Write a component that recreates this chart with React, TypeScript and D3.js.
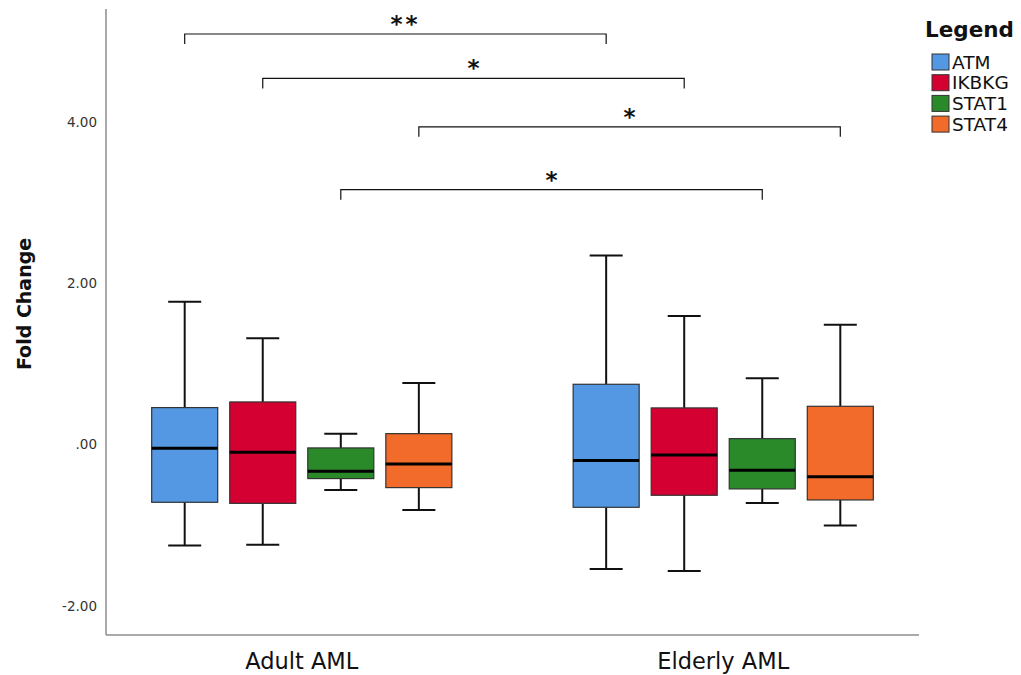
import React from "react";
import * as d3 from "d3";

const groups = ["Adult AML", "Elderly AML"];
const series = ["ATM", "IKBKG", "STAT1", "STAT4"];
const colors = ["#5497E3", "#D50032", "#2A8A2A", "#F26B2B"];

// [low whisker, Q1, median, Q3, high whisker] per group per series
const adultStats = [
  [-1.25, -0.715, -0.046, 0.459, 1.77],
  [-1.24, -0.728, -0.095, 0.529, 1.318],
  [-0.562, -0.421, -0.331, -0.041, 0.136],
  [-0.81, -0.533, -0.239, 0.136, 0.765],
];
const elderlyStats = [
  [-1.541, -0.777, -0.198, 0.748, 2.343],
  [-1.566, -0.628, -0.128, 0.455, 1.595],
  [-0.723, -0.549, -0.319, 0.074, 0.822],
  [-1.004, -0.686, -0.397, 0.475, 1.487],
];
const statsByGroup = [adultStats, elderlyStats];

const yTickValues = [-2, 0, 2, 4];
const yTickLabels = ["-2.00", ".00", "2.00", "4.00"];

// significance brackets: series index compared across groups, level (value), label
const bracketSeries = [0, 1, 3, 2];
const bracketLevels = [5.09, 4.54, 3.94, 3.16];
const bracketLabels = ["**", "*", "*", "*"];

const W = 1021;
const H = 675;
const left = 106;
const right = 919;
const top = 9;
const bottom = 635;

export default function App() {
  const y = d3.scaleLinear().domain([-2.36, 5.4]).range([bottom, top]);
  const x = d3.scaleBand<string>().domain(groups).range([left, right]).paddingInner(0.2).paddingOuter(0.0645);
  const xs = d3
    .scaleBand<string>()
    .domain(series)
    .range([0, x.bandwidth()])
    .paddingInner(0.154)
    .paddingOuter(0.237);
  const bw = xs.bandwidth();
  const cx = (g: string, s: string) => (x(g) as number) + (xs(s) as number) + bw / 2;
  const capW = bw / 2;
  const tickH = 10;

  return (
    <svg width={W} height={H} style={{ display: "block", position: "absolute", left: 0, top: 0 }}>
      <rect x={0} y={0} width={W} height={H} fill="#fff" />
      {/* axes */}
      <line x1={left} y1={top} x2={left} y2={bottom} stroke="#8c8c8c" strokeWidth={1.5} />
      <line x1={left} y1={bottom} x2={right} y2={bottom} stroke="#8c8c8c" strokeWidth={1.5} />
      {yTickValues.map((v, i) => (
        <text
          key={v}
          x={97}
          y={y(v)}
          dy="0.35em"
          textAnchor="end"
          fontFamily="DejaVu Sans, Verdana, sans-serif"
          fontSize={13.5}
          fill="#333"
        >
          {yTickLabels[i]}
        </text>
      ))}
      <text
        transform={`translate(31,${(y(-2) + y(4)) / 2 - 60}) rotate(-90)`}
        textAnchor="middle"
        fontFamily="DejaVu Sans, sans-serif"
        fontWeight="bold"
        fontSize={19}
        fill="#111"
      >
        Fold Change
      </text>
      {groups.map((g) => (
        <text
          key={g}
          x={(x(g) as number) + x.bandwidth() / 2}
          y={669}
          textAnchor="middle"
          fontFamily="DejaVu Sans, sans-serif"
          fontSize={22.5}
          fill="#111"
        >
          {g}
        </text>
      ))}
      {/* boxes */}
      {groups.map((g, gi) =>
        series.map((s, si) => {
          const [lo, q1, med, q3, hi] = statsByGroup[gi][si];
          const c = cx(g, s);
          return (
            <g key={g + s}>
              <line x1={c} x2={c} y1={y(hi)} y2={y(q3)} stroke="#111" strokeWidth={2} />
              <line x1={c} x2={c} y1={y(q1)} y2={y(lo)} stroke="#111" strokeWidth={2} />
              <line x1={c - capW / 2} x2={c + capW / 2} y1={y(hi)} y2={y(hi)} stroke="#111" strokeWidth={2} />
              <line x1={c - capW / 2} x2={c + capW / 2} y1={y(lo)} y2={y(lo)} stroke="#111" strokeWidth={2} />
              <rect
                x={c - bw / 2}
                y={y(q3)}
                width={bw}
                height={y(q1) - y(q3)}
                fill={colors[si]}
                stroke="#333"
                strokeWidth={1.2}
              />
              <line x1={c - bw / 2} x2={c + bw / 2} y1={y(med)} y2={y(med)} stroke="#000" strokeWidth={3} />
            </g>
          );
        })
      )}
      {/* significance brackets */}
      {bracketSeries.map((si, i) => {
        const x1 = cx(groups[0], series[si]);
        const x2 = cx(groups[1], series[si]);
        const yy = y(bracketLevels[i]);
        return (
          <g key={"b" + i}>
            <path
              d={`M${x1},${yy + tickH}V${yy}H${x2}V${yy + tickH}`}
              fill="none"
              stroke="#111"
              strokeWidth={1.2}
            />
            <text
              x={(x1 + x2) / 2 + (i === 0 ? 10 : 0)}
              y={yy - 2}
              textAnchor="middle"
              fontFamily="DejaVu Sans, sans-serif"
              fontWeight="bold"
              fontSize={23}
              letterSpacing={i === 0 ? 3 : 0}
              fill="#111"
            >
              {bracketLabels[i]}
            </text>
          </g>
        );
      })}
      {/* legend */}
      <text x={925} y={37} fontFamily="DejaVu Sans, sans-serif" fontWeight="bold" fontSize={21.5} fill="#111">
        Legend
      </text>
      {series.map((s, i) => (
        <g key={"l" + s} transform={`translate(932,${54 + i * 20.7})`}>
          <rect x={0} y={0} width={17} height={16} fill={colors[i]} stroke="#333" strokeWidth={1} />
          <text x={20} y={8} dy="0.36em" fontFamily="DejaVu Sans, sans-serif" fontSize={18.5} fill="#111">
            {s}
          </text>
        </g>
      ))}
    </svg>
  );
}
